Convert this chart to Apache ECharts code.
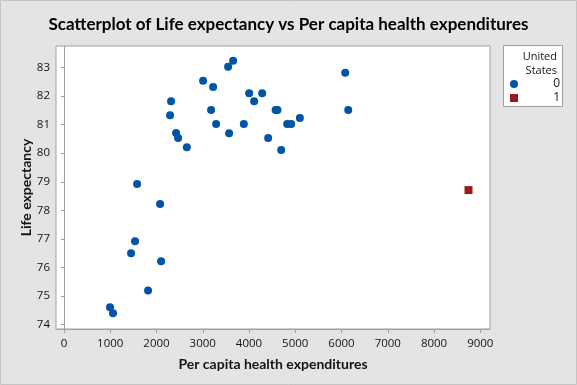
<!DOCTYPE html>
<html>
<head>
<meta charset="utf-8">
<script src="https://cdn.jsdelivr.net/npm/echarts@6/dist/echarts.min.js"></script>
<style>
html,body{margin:0;padding:0;background:#e4e4e4;}
#c{width:577px;height:385px;}
</style>
</head>
<body>
<div id="c"></div>
<script>
// Data
const titleText = "Scatterplot of Life expectancy vs Per capita health expenditures";
const xName = "Per capita health expenditures";
const yName = "Life expectancy";
const legendTitle = ["United", "States"];
const groupNames = ["0", "1"];

// Group 0 (other countries)
const spend0 = [3656, 3548, 3007, 3224, 2315, 4003, 4284, 4111, 2293, 3180, 4575, 4615, 3288, 3888, 4825, 4911, 5099, 3570, 2423, 2467, 2655, 4414, 4695, 1580, 6080, 6145, 2077, 1536, 1450, 2099, 1817, 995, 1060];
const life0  = [83.23, 83.02, 82.53, 82.32, 81.82, 82.10, 82.10, 81.82, 81.33, 81.51, 81.51, 81.51, 81.02, 81.02, 81.02, 81.02, 81.23, 80.70, 80.71, 80.53, 80.21, 80.53, 80.11, 78.92, 82.81, 81.51, 78.22, 76.92, 76.50, 76.22, 75.20, 74.61, 74.40];
// Group 1 (United States)
const spend1 = [8745];
const life1  = [78.71];

const xTicks = [0, 1000, 2000, 3000, 4000, 5000, 6000, 7000, 8000, 9000];
const yTicks = [74, 75, 76, 77, 78, 79, 80, 81, 82, 83];

const FONT = "'Open Sans', 'Noto Sans', sans-serif";
const HFONT = "Lato, 'Open Sans', sans-serif";
const TXT = '#141414';
const FRAME = '#a0a0a0';

const chart = echarts.init(document.getElementById('c'), null, {renderer: 'canvas'});
const pts = (xs, ys) => xs.map((v, i) => [v, ys[i]]);

chart.setOption({
  backgroundColor: '#e4e4e4',
  animation: false,
  title: {
    text: titleText, left: 'center', top: 11,
    textStyle: {fontFamily: HFONT, fontSize: 17, fontWeight: 700, color: '#000'}
  },
  grid: {
    left: 56, top: 46, right: 87, bottom: 56,
    show: true, backgroundColor: '#fff', borderColor: FRAME, borderWidth: 1
  },
  xAxis: {
    type: 'value', min: -173, max: 9210,
    name: xName, nameLocation: 'middle', nameGap: 28, nameMoveOverlap: false,
    nameTextStyle: {fontFamily: HFONT, fontSize: 14, fontWeight: 700, color: TXT},
    axisLine: {show: true, lineStyle: {color: FRAME}},
    axisTick: {show: true, length: 4, lineStyle: {color: FRAME}, customValues: xTicks},
    axisLabel: {fontFamily: FONT, fontSize: 11.5, color: TXT, margin: 9, customValues: xTicks,
                formatter: v => String(v)},
    splitLine: {show: false}
  },
  yAxis: {
    type: 'value', min: 73.85, max: 83.75,
    name: yName, nameLocation: 'middle', nameGap: 23, nameRotate: 90, nameMoveOverlap: false,
    nameTextStyle: {fontFamily: HFONT, fontSize: 14, fontWeight: 700, color: TXT},
    axisLine: {show: true, lineStyle: {color: FRAME}},
    axisTick: {show: true, length: 3, lineStyle: {color: FRAME}, customValues: yTicks},
    axisLabel: {fontFamily: FONT, fontSize: 11.5, color: TXT, margin: 6, customValues: yTicks,
                formatter: v => String(v)},
    splitLine: {show: false}
  },
  legend: {
    data: groupNames, orient: 'vertical', left: 510, top: 77,
    itemWidth: 8, itemHeight: 8, itemGap: 0, padding: 0,
    formatter: n => '{a|' + n + '}',
    textStyle: {
      fontFamily: FONT, fontSize: 12, color: TXT, lineHeight: 14,
      rich: {a: {width: 37, height: 14, lineHeight: 14, align: 'right', fontFamily: FONT, fontSize: 12, color: TXT}}
    }
  },
  graphic: [
    {type: 'rect', z: -1, shape: {x: 0.5, y: 0.5, width: 576, height: 384},
     style: {fill: 'none', stroke: '#c4c4c4', lineWidth: 1}},
    {type: 'rect', z: 0, shape: {x: 503.5, y: 45.5, width: 59, height: 61},
     style: {fill: '#fff', stroke: FRAME, lineWidth: 1}},
    {type: 'text', z: 1, x: 557, y: 57,
     style: {text: legendTitle[0], align: 'right', verticalAlign: 'middle', font: '11px ' + FONT, fill: TXT}},
    {type: 'text', z: 1, x: 557, y: 70.5,
     style: {text: legendTitle[1], align: 'right', verticalAlign: 'middle', font: '11px ' + FONT, fill: TXT}}
  ],
  series: [
    {name: groupNames[0], type: 'scatter', symbol: 'circle', symbolSize: 8,
     itemStyle: {color: '#0054a6', opacity: 1}, data: pts(spend0, life0)},
    {name: groupNames[1], type: 'scatter', symbol: 'rect', symbolSize: 8,
     itemStyle: {color: '#9b1b1b', opacity: 1}, data: pts(spend1, life1)}
  ]
});
</script>
</body>
</html>
